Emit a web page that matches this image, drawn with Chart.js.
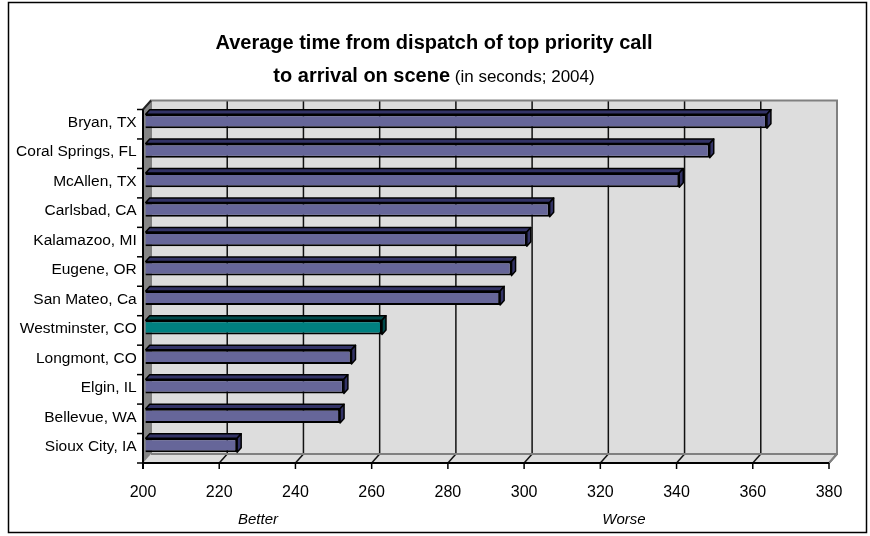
<!DOCTYPE html>
<html>
<head>
<meta charset="utf-8">
<script src="https://cdn.jsdelivr.net/npm/chart.js@4/dist/chart.umd.min.js"></script>
<style>
  html, body { margin: 0; padding: 0; background: #ffffff; }
  #wrap { position: relative; width: 870px; height: 536px; }
</style>
</head>
<body>
<div id="wrap"><canvas id="chart" width="870" height="536"></canvas></div>
<script>
// Response times by city (seconds, 2004)
const cities = ['Bryan, TX', 'Coral Springs, FL', 'McAllen, TX', 'Carlsbad, CA', 'Kalamazoo, MI',
  'Eugene, OR', 'San Mateo, Ca', 'Westminster, CO', 'Longmont, CO', 'Elgin, IL', 'Bellevue, WA', 'Sioux City, IA'];
const seconds = [363, 348, 340, 306, 300, 296, 293, 262, 254, 252, 251, 224];
const highlighted = 'Westminster, CO';
const axisMin = 200;
const axisMax = 380;
const axisStep = 20;
const titleLine1 = 'Average time from dispatch of top priority call';
const titleLine2Bold = 'to arrival on scene';
const titleLine2Note = ' (in seconds; 2004)';
const leftNote = 'Better';
const rightNote = 'Worse';

const BAR = '#666699', BAR_SIDE = '#333366';
const HI = '#008080', HI_SIDE = '#004a4a';
const WALL = '#dddddd', SIDE_WALL = '#858585', EDGE = '#808080';
const FONT = '"Liberation Sans", Arial, sans-serif';

// depth offsets relative to the plane the bars' front faces sit in
const FRONT = { x: -2.7, y: 3 };
const BACK = { x: 5.3, y: -6 };
const BAR_DEPTH = { x: 4, y: -4.5 };

const tickValues = [];
for (let v = axisMin; v <= axisMax; v += axisStep) tickValues.push(v);

const decor = {
  id: 'decor',
  beforeDraw(chart) {
    const ctx = chart.ctx;
    const ca = chart.chartArea;
    const xs = chart.scales.x;
    const xL = xs.getPixelForValue(axisMin);
    const xR = xs.getPixelForValue(axisMax);
    ctx.save();
    ctx.fillStyle = '#ffffff';
    ctx.fillRect(0, 0, chart.width, chart.height);

    // frame
    ctx.strokeStyle = '#000';
    ctx.lineWidth = 1.5;
    ctx.strokeRect(8.5, 2.5, 858, 530);

    // title
    ctx.fillStyle = '#000';
    ctx.textBaseline = 'alphabetic';
    ctx.textAlign = 'center';
    ctx.font = 'bold 20px ' + FONT;
    ctx.fillText(titleLine1, 434, 49);
    ctx.font = 'bold 20px ' + FONT;
    const w1 = ctx.measureText(titleLine2Bold).width;
    ctx.font = '17px ' + FONT;
    const w2 = ctx.measureText(titleLine2Note).width;
    const start = 434 - (w1 + w2) / 2;
    ctx.textAlign = 'left';
    ctx.font = 'bold 20px ' + FONT;
    ctx.fillText(titleLine2Bold, start, 82);
    ctx.font = '17px ' + FONT;
    ctx.fillText(titleLine2Note, start + w1, 82);

    // back wall
    const bTop = ca.top + BACK.y, bBot = ca.bottom + BACK.y;
    const fTop = ca.top + FRONT.y, fBot = ca.bottom + FRONT.y;
    ctx.fillStyle = WALL;
    ctx.fillRect(xL + BACK.x, bTop, xR - xL, bBot - bTop);
    // floor
    ctx.beginPath();
    ctx.moveTo(xL + FRONT.x, fBot);
    ctx.lineTo(xR + FRONT.x, fBot);
    ctx.lineTo(xR + BACK.x, bBot);
    ctx.lineTo(xL + BACK.x, bBot);
    ctx.closePath();
    ctx.fill();
    // side wall
    ctx.fillStyle = SIDE_WALL;
    ctx.beginPath();
    ctx.moveTo(xL + FRONT.x, fTop);
    ctx.lineTo(xL + BACK.x, bTop);
    ctx.lineTo(xL + BACK.x, bBot);
    ctx.lineTo(xL + FRONT.x, fBot);
    ctx.closePath();
    ctx.fill();

    // grid lines on the back wall and across the floor
    ctx.strokeStyle = '#111';
    ctx.lineWidth = 1.5;
    tickValues.forEach(v => {
      const x = xs.getPixelForValue(v);
      if (v > axisMin && v < axisMax) {
        ctx.beginPath();
        ctx.moveTo(x + BACK.x, bTop);
        ctx.lineTo(x + BACK.x, bBot);
        ctx.stroke();
      }
      if (v > axisMin) {
        ctx.beginPath();
        ctx.moveTo(x + FRONT.x, fBot);
        ctx.lineTo(x + BACK.x, bBot);
        ctx.stroke();
      }
    });

    // wall edges
    ctx.strokeStyle = EDGE;
    ctx.lineWidth = 2;
    ctx.beginPath();
    ctx.moveTo(xL + BACK.x, bBot);
    ctx.lineTo(xL + BACK.x, bTop);
    ctx.lineTo(xR + BACK.x, bTop);
    ctx.lineTo(xR + BACK.x, bBot);
    ctx.lineTo(xL + BACK.x, bBot);
    ctx.moveTo(xR + BACK.x, bBot);
    ctx.lineTo(xR + FRONT.x, fBot);
    ctx.stroke();
    ctx.strokeStyle = '#222';
    ctx.beginPath();
    ctx.moveTo(xL + FRONT.x, fTop);
    ctx.lineTo(xL + BACK.x, bTop);
    ctx.stroke();

    // value axis (front edge of the floor) with ticks
    ctx.strokeStyle = '#000';
    ctx.lineWidth = 2;
    ctx.beginPath();
    ctx.moveTo(xL + FRONT.x, fBot);
    ctx.lineTo(xR + FRONT.x, fBot);
    ctx.stroke();
    ctx.lineWidth = 1.5;
    tickValues.forEach(v => {
      const x = xs.getPixelForValue(v) + FRONT.x;
      ctx.beginPath();
      ctx.moveTo(x, fBot);
      ctx.lineTo(x, fBot + 6);
      ctx.stroke();
    });

    // category axis with ticks between cities
    ctx.lineWidth = 2;
    ctx.beginPath();
    ctx.moveTo(xL + FRONT.x, fTop);
    ctx.lineTo(xL + FRONT.x, fBot + 6);
    ctx.stroke();
    ctx.lineWidth = 1.5;
    const band = (ca.bottom - ca.top) / cities.length;
    for (let i = 0; i <= cities.length; i++) {
      const y = fTop + i * band;
      ctx.beginPath();
      ctx.moveTo(xL + FRONT.x - 6, y);
      ctx.lineTo(xL + FRONT.x, y);
      ctx.stroke();
    }
    ctx.restore();
  },
  afterDatasetsDraw(chart) {
    const ctx = chart.ctx;
    const meta = chart.getDatasetMeta(0);
    const left = chart.scales.x.getPixelForValue(axisMin);
    ctx.save();
    ctx.strokeStyle = '#000';
    ctx.lineWidth = 1.5;
    ctx.lineJoin = 'round';
    meta.data.forEach((bar, i) => {
      const p = bar.getProps(['x', 'y', 'base', 'height'], true);
      const base = Math.max(p.base, left);
      const top = p.y - p.height / 2, bottom = p.y + p.height / 2;
      const hi = cities[i] === highlighted;
      // top face
      ctx.fillStyle = hi ? HI_SIDE : BAR_SIDE;
      ctx.beginPath();
      ctx.moveTo(base, top);
      ctx.lineTo(base + BAR_DEPTH.x, top + BAR_DEPTH.y);
      ctx.lineTo(p.x + BAR_DEPTH.x, top + BAR_DEPTH.y);
      ctx.lineTo(p.x, top);
      ctx.closePath();
      ctx.fill();
      ctx.stroke();
      // end face
      ctx.beginPath();
      ctx.moveTo(p.x, top);
      ctx.lineTo(p.x + BAR_DEPTH.x, top + BAR_DEPTH.y);
      ctx.lineTo(p.x + BAR_DEPTH.x, bottom + BAR_DEPTH.y);
      ctx.lineTo(p.x, bottom);
      ctx.closePath();
      ctx.fill();
      ctx.stroke();
    });
    ctx.restore();
  },
  afterDraw(chart) {
    const ctx = chart.ctx;
    ctx.save();
    ctx.fillStyle = '#000';
    ctx.font = 'italic 15px ' + FONT;
    ctx.textAlign = 'center';
    ctx.textBaseline = 'middle';
    ctx.fillText(leftNote, 258, 520);
    ctx.fillText(rightNote, 624, 520);
    ctx.restore();
  }
};

new Chart(document.getElementById('chart'), {
  type: 'bar',
  data: {
    labels: cities,
    datasets: [{
      data: seconds,
      backgroundColor: cities.map(c => c === highlighted ? HI : BAR),
      borderColor: '#000',
      borderWidth: 2,
      borderSkipped: false,
      categoryPercentage: 1,
      barPercentage: 0.48
    }]
  },
  options: {
    indexAxis: 'y',
    responsive: false,
    animation: false,
    devicePixelRatio: 1,
    layout: { padding: { top: 106.5, right: 38.3, bottom: 16, left: 0 } },
    plugins: { legend: { display: false }, tooltip: { enabled: false }, title: { display: false } },
    scales: {
      x: {
        min: axisMin,
        max: axisMax,
        grid: { display: false },
        border: { display: false },
        ticks: { stepSize: axisStep, color: '#000', font: { family: FONT, size: 16 }, padding: 15, labelOffset: FRONT.x, maxRotation: 0 },
        afterFit(scale) { scale.height = 60; }
      },
      y: {
        grid: { display: false },
        border: { display: false },
        ticks: { color: '#000', font: { family: FONT, size: 15.5 }, padding: 1, labelOffset: 1.5, autoSkip: false },
        afterFit(scale) { scale.width = 145.7; }
      }
    }
  },
  plugins: [decor]
});
</script>
</body>
</html>
